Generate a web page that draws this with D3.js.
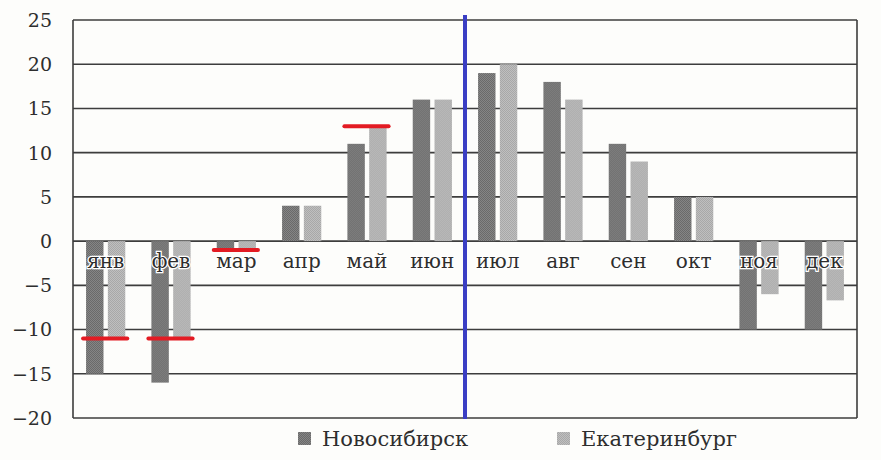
<!DOCTYPE html>
<html>
<head>
<meta charset="utf-8">
<script src="https://cdn.jsdelivr.net/npm/d3@7"></script>
<style>
  html, body { margin: 0; padding: 0; background: #fdfdfb; }
  svg { display: block; }
</style>
</head>
<body>
<div class="canvas"></div>
<script>
// Months (categories)
const months = ['янв','фев','мар','апр','май','июн','июл','авг','сен','окт','ноя','дек'];

// Series names
const seriesNames = ['Новосибирск','Екатеринбург'];

// Mean temperatures
const novosibirsk = [-15, -16, -1, 4, 11, 16, 19, 18, 11, 5, -10, -10];
const ekaterinburg = [-11, -11, -1, 4, 13, 16, 20, 16, 9, 5, -6, -6.7];

// Y axis ticks
const yTicks = [-20, -15, -10, -5, 0, 5, 10, 15, 20, 25];

// Red marks drawn over some month groups
const markMonths = ['янв','фев','мар','май'];
const markValues = [-11, -11, -1, 13];

// Blue divider goes after this month
const dividerAfter = 'июн';

// Canvas sizes
const svgWidth = 881;
const svgHeight = 460;
const margins = {left:73, top:20, right:24, bottom:42};

let xScale, xSub, yScale;
let svg;

function createScales(){
    // band per month
    xScale = d3.scaleBand().domain(months)
    .range([margins.left, svgWidth - margins.right])
    .padding(0);

    // two bars inside each month
    const bw = xScale.bandwidth();
    xSub = d3.scaleBand().domain(seriesNames)
    .range([bw*0.2, bw*0.8])
    .paddingInner(0.2);

    yScale = d3.scaleLinear().domain([-20,25])
    .range([svgHeight - margins.bottom, margins.top]);
}

function drawCanvas(){
    svg = d3.select('.canvas').append('svg')
    .attr('width',svgWidth)
    .attr('height',svgHeight);

    // halftone-ish fills
    const defs = svg.append('defs');
    const pats = [['patNovo','#6a6a6a','#858585'],['patEkb','#a8a8a8','#bfbfbf']];
    pats.forEach(p => {
        const pat = defs.append('pattern')
        .attr('id',p[0])
        .attr('width',2).attr('height',2)
        .attr('patternUnits','userSpaceOnUse');
        pat.append('rect').attr('width',2).attr('height',2).attr('fill',p[1]);
        pat.append('rect').attr('width',1).attr('height',1).attr('fill',p[2]);
        pat.append('rect').attr('x',1).attr('y',1).attr('width',1).attr('height',1).attr('fill',p[2]);
    });
}

function drawGrid(){
    const x0 = xScale.range()[0];
    const x1 = xScale.range()[1];

    // horizontal grid lines
    svg.append('g').selectAll('line')
    .data(yTicks)
    .enter()
    .append('line')
    .attr('x1',x0)
    .attr('x2',x1)
    .attr('y1',d => yScale(d))
    .attr('y2',d => yScale(d))
    .attr('stroke','#3d3d3d')
    .attr('stroke-width',1.6);

    // left and right frame
    [x0, x1].forEach(x => {
        svg.append('line')
        .attr('x1',x).attr('x2',x)
        .attr('y1',yScale(25)).attr('y2',yScale(-20))
        .attr('stroke','#3d3d3d')
        .attr('stroke-width',1.6);
    });

    // y tick labels
    svg.append('g').selectAll('text')
    .data(yTicks)
    .enter()
    .append('text')
    .attr('x',52)
    .attr('y',d => yScale(d))
    .attr('dy','0.36em')
    .attr('text-anchor','end')
    .attr('font-family','DejaVu Serif')
    .attr('font-size',19)
    .attr('fill','#2e2e2e')
    .text(d => d < 0 ? '\u2212' + Math.abs(d) : d);
}

function drawData(){
    const table = months.map((m,i) => ({month:m, values:[novosibirsk[i], ekaterinburg[i]]}));
    const fills = ['url(#patNovo)','url(#patEkb)'];

    const groups = svg.append('g').selectAll('g')
    .data(table)
    .enter()
    .append('g')
    .attr('transform',d => 'translate(' + xScale(d.month) + ',0)');

    groups.selectAll('rect')
    .data(d => d.values.map((v,j) => ({name:seriesNames[j], value:v, j:j})))
    .enter()
    .append('rect')
    .attr('x',d => xSub(d.name))
    .attr('width',xSub.bandwidth())
    .attr('y',d => yScale(Math.max(0,d.value)))
    .attr('height',d => Math.abs(yScale(d.value) - yScale(0)))
    .attr('fill',d => fills[d.j]);

    // month labels, with white halo over bars
    svg.append('g').selectAll('text')
    .data(months)
    .enter()
    .append('text')
    .attr('x',d => xScale(d) + xScale.bandwidth()/2)
    .attr('y',yScale(0) + 27)
    .attr('text-anchor','middle')
    .attr('font-family','DejaVu Serif')
    .attr('font-size',20)
    .attr('fill','#2e2e2e')
    .attr('stroke','#ffffff')
    .attr('stroke-width',2.5)
    .attr('paint-order','stroke')
    .text(d => d);
}

function drawMarks(){
    const bw = xScale.bandwidth();

    // red marks
    svg.append('g').selectAll('line')
    .data(markMonths)
    .enter()
    .append('line')
    .attr('x1',d => xScale(d) + xSub(seriesNames[0]) - 3)
    .attr('x2',d => xScale(d) + xSub(seriesNames[1]) + xSub.bandwidth() + 2)
    .attr('y1',(d,i) => yScale(markValues[i]))
    .attr('y2',(d,i) => yScale(markValues[i]))
    .attr('stroke','#e31b23')
    .attr('stroke-width',4)
    .attr('stroke-linecap','round');

    // blue divider
    const xd = xScale(dividerAfter) + bw;
    svg.append('line')
    .attr('x1',xd).attr('x2',xd)
    .attr('y1',yScale(25) - 5)
    .attr('y2',yScale(-20) + 1)
    .attr('stroke','#3a3ec4')
    .attr('stroke-width',4);
}

function drawLegend(){
    const legendX = [298, 557];
    const fills = ['url(#patNovo)','url(#patEkb)'];

    const items = svg.append('g').selectAll('g')
    .data(seriesNames)
    .enter()
    .append('g')
    .attr('transform',(d,i) => 'translate(' + legendX[i] + ',432)');

    items.append('rect')
    .attr('width',13)
    .attr('height',13)
    .attr('fill',(d,i) => fills[i]);

    items.append('text')
    .attr('x',24)
    .attr('y',14)
    .attr('font-family','DejaVu Serif')
    .attr('font-size',21)
    .attr('fill','#2e2e2e')
    .text(d => d);
}

createScales();
drawCanvas();
drawGrid();
drawData();
drawMarks();
drawLegend();
</script>
</body>
</html>
